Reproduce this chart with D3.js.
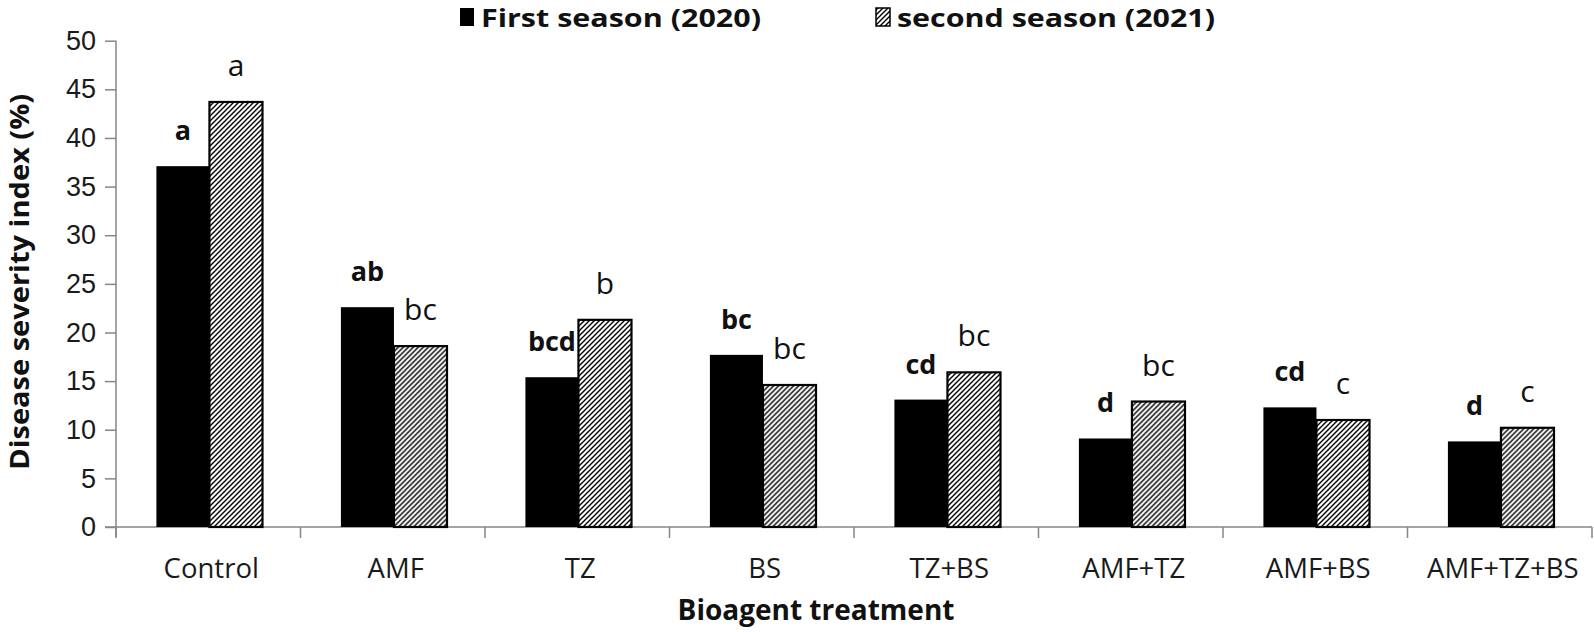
<!DOCTYPE html>
<html>
<head>
<meta charset="utf-8">
<script src="https://cdn.jsdelivr.net/npm/d3@7"></script>
<style>
  html, body { margin: 0; padding: 0; background: #fff; }
  svg { display: block; font-family: "Open Sans", "Noto Sans", sans-serif; }
</style>
</head>
<body>
<svg id="chart" width="1594" height="632"></svg>
<script>
// ---- data ----
const categories = ["Control", "AMF", "TZ", "BS", "TZ+BS", "AMF+TZ", "AMF+BS", "AMF+TZ+BS"];
const seriesNames = ["First season (2020)", "second season (2021)"];
const season2020 = [37.1, 22.6, 15.4, 17.7, 13.1, 9.1, 12.3, 8.8];
const season2021 = [43.7, 18.6, 21.3, 14.6, 15.9, 12.9, 11.0, 10.2];
const letters2020 = ["a", "ab", "bcd", "bc", "cd", "d", "cd", "d"];
const letters2021 = ["a", "bc", "b", "bc", "bc", "bc", "c", "c"];
const yTicks = [0, 5, 10, 15, 20, 25, 30, 35, 40, 45, 50];

// ---- layout ----
const W = 1594, H = 632;
const plot = { left: 116, right: 1592, top: 40.7, bottom: 527 };
const axisColor = "#868686";

const svg = d3.select("#chart");

// hatch pattern
const defs = svg.append("defs");
const pat = defs.append("pattern")
  .attr("id", "hatch")
  .attr("patternUnits", "userSpaceOnUse")
  .attr("width", 5).attr("height", 5);
pat.append("rect").attr("width", 5).attr("height", 5).attr("fill", "#fff");
pat.append("path")
  .attr("d", "M-1,6 L6,-1 M-2,2 L2,-2 M3,7 L7,3")
  .attr("stroke", "#000").attr("stroke-width", 1.4).attr("fill", "none");

const x0 = d3.scaleBand().domain(categories).range([plot.left, plot.right]).paddingInner(0).paddingOuter(0);
const bw = x0.bandwidth();
const x1 = d3.scaleBand().domain(seriesNames).range([bw * 0.219, bw * 0.219 + bw * 0.575]).padding(0);
const y = d3.scaleLinear().domain([0, 50]).range([plot.bottom, plot.top]);

const data = categories.map((c, i) => ({
  cat: c,
  vals: [
    { s: seriesNames[0], v: season2020[i], lab: letters2020[i] },
    { s: seriesNames[1], v: season2021[i], lab: letters2021[i] }
  ]
}));

// y axis
const yAxis = svg.append("g")
  .attr("transform", `translate(${plot.left},0)`)
  .call(d3.axisLeft(y).tickValues(yTicks).tickSize(11).tickPadding(9).tickFormat(d3.format("d")));
yAxis.select(".domain").attr("stroke", axisColor).attr("stroke-width", 1.5)
  .attr("d", `M0,${plot.top}V${plot.bottom + 10}`);
yAxis.selectAll(".tick line").attr("stroke", axisColor).attr("stroke-width", 1.5);
yAxis.selectAll(".tick text").attr("fill", "#1a1a1a").style("font-size", "27px");

// x axis
const xAxis = svg.append("g")
  .attr("transform", `translate(0,${plot.bottom})`);
xAxis.append("line")
  .attr("x1", plot.left - 11).attr("x2", plot.right)
  .attr("stroke", axisColor).attr("stroke-width", 1.5);
const boundaries = categories.map(c => x0(c)).concat([plot.right]);
xAxis.selectAll("line.xt").data(boundaries).join("line")
  .attr("class", "xt")
  .attr("x1", d => d).attr("x2", d => d)
  .attr("y1", 0).attr("y2", 11)
  .attr("stroke", axisColor).attr("stroke-width", 1.5);
xAxis.selectAll("text.xl").data(categories).join("text")
  .attr("class", "xl")
  .attr("x", d => x0(d) + bw / 2 + 3)
  .attr("y", 51)
  .attr("text-anchor", "middle")
  .attr("fill", "#1a1a1a")
  .style("font-size", "27.5px")
  .text(d => d);

// bars
const groups = svg.append("g").selectAll("g").data(data).join("g")
  .attr("transform", d => `translate(${x0(d.cat)},0)`);

groups.selectAll("rect").data(d => d.vals).join("rect")
  .attr("x", d => x1(d.s))
  .attr("y", d => y(d.v))
  .attr("width", x1.bandwidth())
  .attr("height", d => y(0) - y(d.v))
  .attr("fill", (d, i) => i === 0 ? "#000" : "url(#hatch)")
  .attr("stroke", (d, i) => i === 0 ? "none" : "#000")
  .attr("stroke-width", 2.2);

groups.selectAll("text").data(d => d.vals).join("text")
  .attr("x", d => x1(d.s) + x1.bandwidth() / 2)
  .attr("y", d => y(d.v) - 26)
  .attr("text-anchor", "middle")
  .attr("fill", "#111")
  .style("font-size", (d, i) => i === 0 ? "27px" : "30px")
  .style("font-weight", (d, i) => i === 0 ? "bold" : "normal")
  .text(d => d.lab);

// axis titles
svg.append("text")
  .attr("transform", `translate(29,${(plot.top + plot.bottom) / 2 - 2}) rotate(-90)`)
  .attr("text-anchor", "middle")
  .attr("fill", "#111")
  .attr("textLength", 376)
  .attr("lengthAdjust", "spacingAndGlyphs")
  .style("font-size", "27px").style("font-weight", "bold")
  .text("Disease severity index (%)");

svg.append("text")
  .attr("x", 816).attr("y", 620)
  .attr("text-anchor", "middle")
  .attr("fill", "#111")
  .style("font-size", "28px").style("font-weight", "bold")
  .text("Bioagent treatment");

// legend
const legend = svg.append("g");
const legItems = [
  { name: seriesNames[0], fill: "#000", stroke: "none", x: 460, len: 280 },
  { name: seriesNames[1], fill: "url(#hatch)", stroke: "#000", x: 876, len: 318 }
];
const li = legend.selectAll("g").data(legItems).join("g")
  .attr("transform", d => `translate(${d.x},0)`);
li.append("rect")
  .attr("x", 0).attr("y", 8).attr("width", 14).attr("height", 18)
  .attr("fill", d => d.fill).attr("stroke", d => d.stroke).attr("stroke-width", 1.5);
li.append("text")
  .attr("x", 21).attr("y", 27)
  .attr("fill", "#111")
  .attr("textLength", d => d.len)
  .attr("lengthAdjust", "spacingAndGlyphs")
  .style("font-size", "24.5px").style("font-weight", "bold")
  .text(d => d.name);
</script>
</body>
</html>
